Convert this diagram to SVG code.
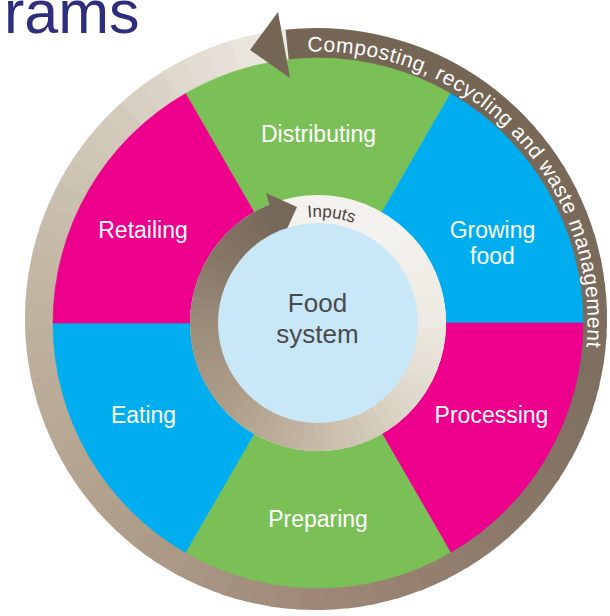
<svg xmlns="http://www.w3.org/2000/svg" width="610" height="616" viewBox="0 0 610 616">
<style>
.or{fill:none;stroke-width:34;stroke-dasharray:6 354}
.ir{fill:none;stroke-width:29;stroke-dasharray:6 354}
.lbl{font-family:"Liberation Sans",Arial,sans-serif;font-size:23px;fill:#ffffff;text-anchor:middle}
.ctr{font-family:"Liberation Sans",Arial,sans-serif;font-size:26px;fill:#4a4a4c;text-anchor:middle}
.inp{font-family:"Liberation Sans",Arial,sans-serif;font-size:17px;fill:#4a4440;text-anchor:middle}
.rim{font-family:"Liberation Sans",Arial,sans-serif;font-size:21px;fill:#ffffff;letter-spacing:0.55px}
.pink{fill:#ec008c;stroke:#ec008c;stroke-width:0.6}
.blue{fill:#00adef;stroke:#00adef;stroke-width:0.6}
.green{fill:#7ac056;stroke:#7ac056;stroke-width:0.6}
</style>
<defs>
<circle id="oc" cx="316" cy="319" r="274" pathLength="360"/>
<circle id="ic" cx="318" cy="323" r="113.5" pathLength="360"/>
<path id="rimPath" d="M307.6 51.7 A270.5 270.5 0 0 1 551.3 457.3"/>
<path id="inPath" d="M245.7 245.5 A106 106 0 0 1 406.9 265.3"/>
</defs>
<rect width="610" height="616" fill="#ffffff"/>
<text x="4" y="33" font-family="Liberation Sans, Arial, sans-serif" font-size="61" fill="#2e2e7e">rams</text>

<g id="connectors">
<g id="outer-ring">
<circle cx="316" cy="319" r="274" fill="none" stroke="#efebe5" stroke-width="34"/>
<use href="#oc" class="or" style="stroke-dasharray:54 306" stroke="#756555" transform="rotate(-98 316 319)"/>
<use href="#oc" class="or" stroke="#766757" transform="rotate(-47 316 319)"/>
<use href="#oc" class="or" stroke="#776858" transform="rotate(-42 316 319)"/>
<use href="#oc" class="or" stroke="#776859" transform="rotate(-37 316 319)"/>
<use href="#oc" class="or" stroke="#786959" transform="rotate(-32 316 319)"/>
<use href="#oc" class="or" stroke="#78695a" transform="rotate(-27 316 319)"/>
<use href="#oc" class="or" stroke="#796a5b" transform="rotate(-22 316 319)"/>
<use href="#oc" class="or" stroke="#796a5c" transform="rotate(-17 316 319)"/>
<use href="#oc" class="or" stroke="#7a6b5d" transform="rotate(-12 316 319)"/>
<use href="#oc" class="or" stroke="#7a6b5d" transform="rotate(-7 316 319)"/>
<use href="#oc" class="or" stroke="#7b6c5e" transform="rotate(-2 316 319)"/>
<use href="#oc" class="or" stroke="#7d6e5f" transform="rotate(3 316 319)"/>
<use href="#oc" class="or" stroke="#7e6f60" transform="rotate(8 316 319)"/>
<use href="#oc" class="or" stroke="#807061" transform="rotate(13 316 319)"/>
<use href="#oc" class="or" stroke="#827263" transform="rotate(18 316 319)"/>
<use href="#oc" class="or" stroke="#837364" transform="rotate(23 316 319)"/>
<use href="#oc" class="or" stroke="#857465" transform="rotate(28 316 319)"/>
<use href="#oc" class="or" stroke="#877566" transform="rotate(33 316 319)"/>
<use href="#oc" class="or" stroke="#887767" transform="rotate(38 316 319)"/>
<use href="#oc" class="or" stroke="#8a7868" transform="rotate(43 316 319)"/>
<use href="#oc" class="or" stroke="#8d7a6a" transform="rotate(48 316 319)"/>
<use href="#oc" class="or" stroke="#8f7c6c" transform="rotate(53 316 319)"/>
<use href="#oc" class="or" stroke="#917e6e" transform="rotate(58 316 319)"/>
<use href="#oc" class="or" stroke="#947f6f" transform="rotate(63 316 319)"/>
<use href="#oc" class="or" stroke="#968171" transform="rotate(68 316 319)"/>
<use href="#oc" class="or" stroke="#988373" transform="rotate(73 316 319)"/>
<use href="#oc" class="or" stroke="#9b8575" transform="rotate(78 316 319)"/>
<use href="#oc" class="or" stroke="#9d8676" transform="rotate(83 316 319)"/>
<use href="#oc" class="or" stroke="#9f8878" transform="rotate(88 316 319)"/>
<use href="#oc" class="or" stroke="#a18b7a" transform="rotate(93 316 319)"/>
<use href="#oc" class="or" stroke="#a38d7c" transform="rotate(98 316 319)"/>
<use href="#oc" class="or" stroke="#a5907f" transform="rotate(103 316 319)"/>
<use href="#oc" class="or" stroke="#a79381" transform="rotate(108 316 319)"/>
<use href="#oc" class="or" stroke="#a99583" transform="rotate(113 316 319)"/>
<use href="#oc" class="or" stroke="#ab9885" transform="rotate(118 316 319)"/>
<use href="#oc" class="or" stroke="#ac9a87" transform="rotate(123 316 319)"/>
<use href="#oc" class="or" stroke="#ae9d89" transform="rotate(128 316 319)"/>
<use href="#oc" class="or" stroke="#b09f8b" transform="rotate(133 316 319)"/>
<use href="#oc" class="or" stroke="#b2a18d" transform="rotate(138 316 319)"/>
<use href="#oc" class="or" stroke="#b3a38f" transform="rotate(143 316 319)"/>
<use href="#oc" class="or" stroke="#b5a691" transform="rotate(148 316 319)"/>
<use href="#oc" class="or" stroke="#b7a894" transform="rotate(153 316 319)"/>
<use href="#oc" class="or" stroke="#b8aa96" transform="rotate(158 316 319)"/>
<use href="#oc" class="or" stroke="#baac98" transform="rotate(163 316 319)"/>
<use href="#oc" class="or" stroke="#bcae9a" transform="rotate(168 316 319)"/>
<use href="#oc" class="or" stroke="#bdb09c" transform="rotate(173 316 319)"/>
<use href="#oc" class="or" stroke="#bfb29e" transform="rotate(178 316 319)"/>
<use href="#oc" class="or" stroke="#c1b5a2" transform="rotate(183 316 319)"/>
<use href="#oc" class="or" stroke="#c4b8a5" transform="rotate(188 316 319)"/>
<use href="#oc" class="or" stroke="#c6bba8" transform="rotate(193 316 319)"/>
<use href="#oc" class="or" stroke="#c8bdac" transform="rotate(198 316 319)"/>
<use href="#oc" class="or" stroke="#cac0af" transform="rotate(203 316 319)"/>
<use href="#oc" class="or" stroke="#cdc3b2" transform="rotate(208 316 319)"/>
<use href="#oc" class="or" stroke="#cfc6b6" transform="rotate(213 316 319)"/>
<use href="#oc" class="or" stroke="#d1c8b9" transform="rotate(218 316 319)"/>
<use href="#oc" class="or" stroke="#d3cabc" transform="rotate(223 316 319)"/>
<use href="#oc" class="or" stroke="#d7cfc2" transform="rotate(228 316 319)"/>
<use href="#oc" class="or" stroke="#dbd3c7" transform="rotate(233 316 319)"/>
<use href="#oc" class="or" stroke="#dfd8cd" transform="rotate(238 316 319)"/>
<use href="#oc" class="or" stroke="#e3dcd2" transform="rotate(243 316 319)"/>
<use href="#oc" class="or" stroke="#e6e0d8" transform="rotate(248 316 319)"/>
<use href="#oc" class="or" stroke="#eae5dd" transform="rotate(253 316 319)"/>
<use href="#oc" class="or" stroke="#ede9e2" transform="rotate(258 316 319)"/>
</g>
</g>

<g id="distributing">
<path class="green" d="M318 323 L185.5 93.5 A265 265 0 0 1 450.5 93.5 Z"/>
<text class="lbl" x="318.5" y="142">Distributing</text>
</g>
<g id="growing-food">
<path class="blue" d="M318 323 L450.5 93.5 A265 265 0 0 1 583 323 Z"/>
<text class="lbl" x="492.5" y="238">Growing</text>
<text class="lbl" x="492.5" y="264">food</text>
</g>
<g id="processing">
<path class="pink" d="M318 323 L583 323 A265 265 0 0 1 450.5 552.5 Z"/>
<text class="lbl" x="491.5" y="423">Processing</text>
</g>
<g id="preparing">
<path class="green" d="M318 323 L450.5 552.5 A265 265 0 0 1 185.5 552.5 Z"/>
<text class="lbl" x="318" y="527">Preparing</text>
</g>
<g id="eating">
<path class="blue" d="M318 323 L185.5 552.5 A265 265 0 0 1 53 323 Z"/>
<text class="lbl" x="143.5" y="423">Eating</text>
</g>
<g id="retailing">
<path class="pink" d="M318 323 L53 323 A265 265 0 0 1 185.5 93.5 Z"/>
<text class="lbl" x="143" y="238">Retailing</text>
</g>

<g id="inputs-arrow">
<circle cx="318" cy="323" r="113.5" fill="none" stroke="#f4f2ee" stroke-width="29"/>
<use href="#ic" class="ir" style="stroke-dasharray:7 353" stroke="#77695a" transform="rotate(-118.5 318 323)"/>
<use href="#ic" class="ir" stroke="#7a6b5c" transform="rotate(-123.5 318 323)"/>
<use href="#ic" class="ir" stroke="#7c6d5e" transform="rotate(-128.5 318 323)"/>
<use href="#ic" class="ir" stroke="#7e6f60" transform="rotate(-133.5 318 323)"/>
<use href="#ic" class="ir" stroke="#817162" transform="rotate(-138.5 318 323)"/>
<use href="#ic" class="ir" stroke="#837464" transform="rotate(-143.5 318 323)"/>
<use href="#ic" class="ir" stroke="#857666" transform="rotate(-148.5 318 323)"/>
<use href="#ic" class="ir" stroke="#887968" transform="rotate(-153.5 318 323)"/>
<use href="#ic" class="ir" stroke="#8b7c6b" transform="rotate(-158.5 318 323)"/>
<use href="#ic" class="ir" stroke="#8f7f6e" transform="rotate(-163.5 318 323)"/>
<use href="#ic" class="ir" stroke="#928272" transform="rotate(-168.5 318 323)"/>
<use href="#ic" class="ir" stroke="#958675" transform="rotate(-173.5 318 323)"/>
<use href="#ic" class="ir" stroke="#998978" transform="rotate(-178.5 318 323)"/>
<use href="#ic" class="ir" stroke="#9c8c7a" transform="rotate(-183.5 318 323)"/>
<use href="#ic" class="ir" stroke="#9e8e7c" transform="rotate(-188.5 318 323)"/>
<use href="#ic" class="ir" stroke="#a0907e" transform="rotate(-193.5 318 323)"/>
<use href="#ic" class="ir" stroke="#a29280" transform="rotate(-198.5 318 323)"/>
<use href="#ic" class="ir" stroke="#a49481" transform="rotate(-203.5 318 323)"/>
<use href="#ic" class="ir" stroke="#a69683" transform="rotate(-208.5 318 323)"/>
<use href="#ic" class="ir" stroke="#a89885" transform="rotate(-213.5 318 323)"/>
<use href="#ic" class="ir" stroke="#aa9a86" transform="rotate(-218.5 318 323)"/>
<use href="#ic" class="ir" stroke="#ad9b88" transform="rotate(-223.5 318 323)"/>
<use href="#ic" class="ir" stroke="#af9f8a" transform="rotate(-228.5 318 323)"/>
<use href="#ic" class="ir" stroke="#b1a28d" transform="rotate(-233.5 318 323)"/>
<use href="#ic" class="ir" stroke="#b4a590" transform="rotate(-238.5 318 323)"/>
<use href="#ic" class="ir" stroke="#b7a894" transform="rotate(-243.5 318 323)"/>
<use href="#ic" class="ir" stroke="#b9ab97" transform="rotate(-248.5 318 323)"/>
<use href="#ic" class="ir" stroke="#bcae9a" transform="rotate(-253.5 318 323)"/>
<use href="#ic" class="ir" stroke="#bfb19d" transform="rotate(-258.5 318 323)"/>
<use href="#ic" class="ir" stroke="#c1b3a0" transform="rotate(-263.5 318 323)"/>
<use href="#ic" class="ir" stroke="#c4b6a4" transform="rotate(-268.5 318 323)"/>
<use href="#ic" class="ir" stroke="#c7baa7" transform="rotate(-273.5 318 323)"/>
<use href="#ic" class="ir" stroke="#c9bdab" transform="rotate(-278.5 318 323)"/>
<use href="#ic" class="ir" stroke="#ccc0ae" transform="rotate(-283.5 318 323)"/>
<use href="#ic" class="ir" stroke="#cec3b2" transform="rotate(-288.5 318 323)"/>
<use href="#ic" class="ir" stroke="#d0c6b5" transform="rotate(-293.5 318 323)"/>
<use href="#ic" class="ir" stroke="#d3c9b9" transform="rotate(-298.5 318 323)"/>
<use href="#ic" class="ir" stroke="#d5ccbc" transform="rotate(-303.5 318 323)"/>
<use href="#ic" class="ir" stroke="#d8cfc0" transform="rotate(-308.5 318 323)"/>
<use href="#ic" class="ir" stroke="#dad2c3" transform="rotate(-313.5 318 323)"/>
<use href="#ic" class="ir" stroke="#ddd5c8" transform="rotate(-318.5 318 323)"/>
<use href="#ic" class="ir" stroke="#ded7cb" transform="rotate(-323.5 318 323)"/>
<use href="#ic" class="ir" stroke="#e0d9cd" transform="rotate(-328.5 318 323)"/>
<use href="#ic" class="ir" stroke="#e2dcd0" transform="rotate(-333.5 318 323)"/>
<use href="#ic" class="ir" stroke="#e4ded3" transform="rotate(-338.5 318 323)"/>
<use href="#ic" class="ir" stroke="#e6e0d6" transform="rotate(-343.5 318 323)"/>
<use href="#ic" class="ir" stroke="#e8e2d8" transform="rotate(-348.5 318 323)"/>
<use href="#ic" class="ir" stroke="#eae5db" transform="rotate(-353.5 318 323)"/>
<use href="#ic" class="ir" stroke="#ece7de" transform="rotate(-358.5 318 323)"/>
<use href="#ic" class="ir" stroke="#ede9e3" transform="rotate(-363.5 318 323)"/>
<use href="#ic" class="ir" stroke="#eeeae4" transform="rotate(-368.5 318 323)"/>
<use href="#ic" class="ir" stroke="#eeebe5" transform="rotate(-373.5 318 323)"/>
<use href="#ic" class="ir" stroke="#efece6" transform="rotate(-378.5 318 323)"/>
<use href="#ic" class="ir" stroke="#f0ede7" transform="rotate(-383.5 318 323)"/>
<use href="#ic" class="ir" stroke="#f1eee8" transform="rotate(-388.5 318 323)"/>
<use href="#ic" class="ir" stroke="#f1efe9" transform="rotate(-393.5 318 323)"/>
<use href="#ic" class="ir" stroke="#f2efea" transform="rotate(-398.5 318 323)"/>
<use href="#ic" class="ir" stroke="#f3f0eb" transform="rotate(-403.5 318 323)"/>
<polygon points="297,207 266,193 281,242" fill="#766859"/>
<text class="inp"><textPath href="#inPath" startOffset="50%">Inputs</textPath></text>
</g>

<g id="food-system">
<circle cx="318" cy="323" r="100" fill="#c8e8f8"/>
<text class="ctr" x="317.5" y="312">Food</text>
<text class="ctr" x="317.5" y="343">system</text>
</g>

<g id="composting-arrow">
<polygon points="250,50 278,12 290,78" fill="#756555"/>
<text class="rim"><textPath href="#rimPath">Composting, recycling and waste management</textPath></text>
</g>
</svg>
